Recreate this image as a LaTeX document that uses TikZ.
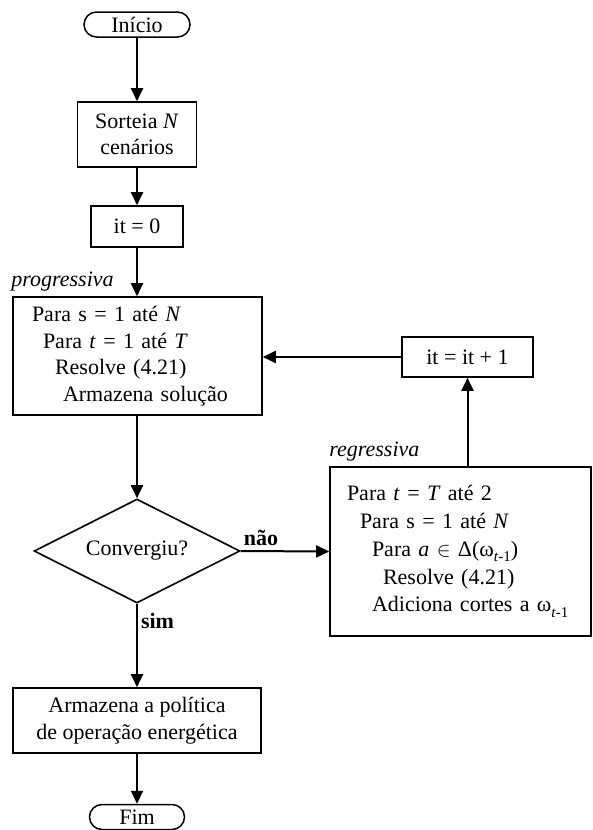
\documentclass[tikz,border=0pt]{standalone}
\usepackage{fontspec}
\setmainfont{Liberation Serif}
\usetikzlibrary{arrows.meta,shapes.geometric,calc}

% lowered small index such as t-1
\newcommand\sbt[1]{\raisebox{-5.5pt}{\fontsize{15}{15}\selectfont #1}}

\begin{document}
\begin{tikzpicture}[x=1pt,y=-1pt,
  font=\fontsize{22}{26.5}\selectfont,
  term/.style={draw, line width=1.5pt, rounded corners=12.5pt,
    minimum height=25pt, inner sep=0pt},
  procbox/.style={draw, line width=1.6pt, align=center, inner sep=0pt},
  arr/.style={line width=2pt, -{Triangle[length=13pt,width=12pt]}},
  flag/.style={font=\fontsize{22}{26.5}\selectfont\bfseries, inner sep=0pt}]
\useasboundingbox (0,0) rectangle (593,830);

% main column
\node[term, minimum width=106pt] (start) at (137,24.5) {Início};
\node[procbox, minimum width=119pt, minimum height=65pt] (sort) at (137,134.5)
  {Sorteia \textit{N}\\cenários};
\node[procbox, minimum width=92pt, minimum height=41pt] (it0) at (137,226.5) {it = 0};
\node[procbox, minimum height=118pt, text width=211pt, inner xsep=19pt, align=left]
  (fwd) at (137.5,356) {Para s = 1 até \textit{N}\\
  \hspace*{11pt}Para \textit{t} = 1 até \textit{T}\\
  \hspace*{23pt}Resolve (4.21)\\
  \hspace*{31pt}Armazena solução};
\node[diamond, draw, line width=1.6pt, aspect=2, minimum width=206pt,
  minimum height=104pt, inner sep=0pt] (dec) at (137,551) {Convergiu?};
\node[procbox, minimum width=248pt, minimum height=65pt] (pol) at (137,720.5)
  {Armazena a política\\de operação energética};
\node[term, minimum width=95pt] (fim) at (137,817) {Fim};

% backward pass and counter update
\node[procbox, minimum height=169pt, text width=227pt, inner xsep=17pt, align=left,
  font=\fontsize{22}{27.75}\selectfont] (bwd) at (460.5,551.5)
  {Para \textit{t} = \textit{T} até 2\\
  \hspace*{13pt}Para s = 1 até \textit{N}\\
  \hspace*{25pt}Para \textit{a} $\in$ Δ(ω\sbt{\textit{t}-1})\\
  \hspace*{36pt}Resolve (4.21)\\
  \hspace*{25pt}Adiciona cortes a ω\sbt{\textit{t}-1}};
\node[procbox, minimum width=131pt, minimum height=40pt] (upd) at (467.5,357) {it = it + 1};

% phase captions
\node[anchor=base west, inner sep=0pt] (cfwd) at ($(fwd.north west)+(-1,-10)$)
  {\textit{progressiva}};
\node[anchor=base west, inner sep=0pt] (cbwd) at ($(bwd.north west)+(0,-10)$)
  {\textit{regressiva}};

% connectors
\draw[arr] (start) -- (sort);
\draw[arr] (sort) -- (it0);
\draw[arr] (it0) -- (it0 |- fwd.north);
\draw[arr] (fwd.south -| dec.north) -- (dec.north);
\draw[arr] (dec.east) -- node[flag, pos=0, anchor=base west, xshift=2pt, yshift=6pt] {não} (bwd.west);
\draw[arr] (dec.south) -- node[flag, pos=0, anchor=base west, xshift=3pt, yshift=-25pt] {sim} (pol.north);
\draw[arr] (pol) -- (fim);
\draw[arr] (bwd.north -| upd.south) -- (upd.south);
\draw[arr] (upd.west) -- (fwd.east |- upd.west);
\end{tikzpicture}
\end{document}
